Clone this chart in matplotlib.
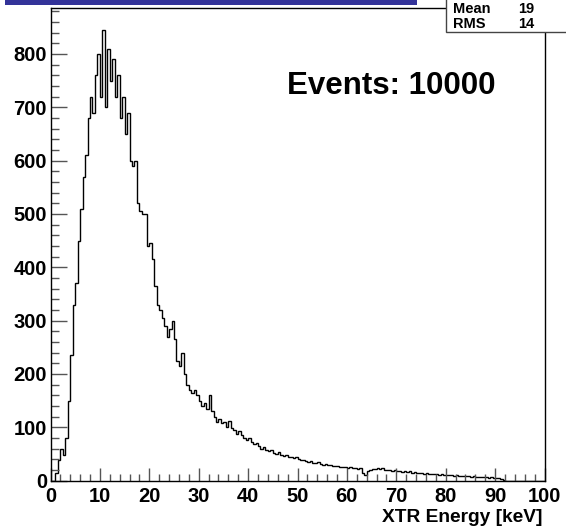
import numpy as np
import matplotlib
matplotlib.use("Agg")
import matplotlib.pyplot as plt
from matplotlib.patches import Rectangle

plt.rcParams['font.family'] = ['Liberation Sans', 'DejaVu Sans']
plt.rcParams['font.weight'] = 'bold'

# histogram: 200 bins of 0.5 keV from 0 to 100 keV (counts)
bin_width = 0.5
counts = [
    # 0 - 5 keV
    0, 0, 15, 38, 60, 48, 80, 150, 235, 330,
    # 5 - 10
    370, 450, 510, 570, 610, 680, 720, 690, 760, 800,
    # 10 - 15
    720, 845, 700, 810, 750, 790, 720, 760, 680, 720,
    # 15 - 20
    650, 690, 600, 590, 600, 520, 505, 500, 500, 440,
    # 20 - 25
    445, 415, 365, 330, 320, 305, 290, 270, 285, 300,
    # 25 - 30
    265, 225, 215, 240, 200, 180, 170, 165, 170, 160,
    # 30 - 35
    150, 140, 145, 135, 160, 130, 120, 110, 115, 108,
    # 35 - 40
    110, 100, 112, 98, 95, 88, 92, 85, 80, 76,
    # 40 - 45
    80, 72, 68, 70, 64, 60, 62, 58, 55, 57,
    # 45 - 50
    52, 50, 53, 48, 46, 48, 44, 45, 42, 44,
    # 50 - 55
    40, 38, 39, 36, 35, 37, 33, 32, 34, 31,
    # 55 - 60
    30, 31, 29, 30, 28, 27, 28, 26, 25, 26,
    # 60 - 65
    24, 25, 23, 24, 22, 23, 14, 10, 18, 20,
    # 65 - 70
    22, 21, 23, 22, 24, 20, 19, 20, 18, 19,
    # 70 - 75
    17, 18, 16, 17, 16, 17, 15, 16, 15, 14,
    # 75 - 80
    15, 13, 14, 13, 12, 13, 12, 11, 12, 11,
    # 80 - 85
    10, 11, 10, 9, 10, 9, 9, 8, 9, 8,
    # 85 - 90
    7, 8, 7, 7, 6, 7, 6, 5, 6, 5,
    # 90 - 95
    4, 5, 3, 1, 0, 0, 0, 0, 0, 0,
    # 95 - 100
    0, 0, 0, 0, 0, 0, 0, 0, 0, 0,
]
x_label = "XTR Energy [keV]"
annotation = "Events: 10000"
stats_names = ["Mean", "RMS"]
stats_values = ["19", "14"]

edges = np.arange(0, 100 + bin_width / 2, bin_width)

fig = plt.figure(figsize=(5.66, 5.29), dpi=100)
ax = fig.add_axes([50.5 / 566, 1 - 480.5 / 529, 494 / 566, 472.5 / 529])

ax.stairs(counts, edges, color='black', linewidth=1.0, baseline=None)

ax.set_xlim(0, 100)
ax.set_ylim(0, 886)
ax.set_xticks(np.arange(0, 101, 10))
ax.set_xticks(np.arange(0, 101, 2), minor=True)
ax.set_yticks(np.arange(0, 801, 100))
ax.set_yticks(np.arange(0, 881, 20), minor=True)

# ROOT style ticks, drawn inside
ax.tick_params(axis='both', which='both', direction='in', labelsize=14.5, width=1.0, color='#555555')
ax.tick_params(axis='x', which='major', length=9.5, pad=4.5)
ax.tick_params(axis='x', which='minor', length=5)
ax.tick_params(axis='y', which='major', length=11.5, pad=2.5)
ax.tick_params(axis='y', which='minor', length=5.5)
for lab in ax.get_xticklabels() + ax.get_yticklabels():
    lab.set_fontweight('bold')
for sp in ax.spines.values():
    sp.set_linewidth(1.0)

ax.text(0.479, 0.835, annotation, transform=ax.transAxes, fontsize=22.5,
        fontweight='bold', ha='left', va='center')

fig.text(543 / 566, 1 - 518 / 529, x_label, fontsize=13.8, fontweight='bold',
         ha='right', va='center')

# title bar (cut off) and stats box at the top
fig.patches.append(Rectangle((5 / 566, 1 - 4.5 / 529), 412 / 566, 4.5 / 529,
                             transform=fig.transFigure, facecolor='#333399',
                             edgecolor='none', zorder=5))
fig.patches.append(Rectangle((446 / 566, 1 - 32 / 529), 130 / 566, 34 / 529,
                             transform=fig.transFigure, facecolor='white',
                             edgecolor='#444444', linewidth=1.0, zorder=5))
for i, (name, val) in enumerate(zip(stats_names, stats_values)):
    yy = 1 - (9 + 15 * i) / 529
    fig.text(453 / 566, yy, name, fontsize=10.5, fontweight='bold', ha='left', va='center', zorder=6)
    fig.text(518 / 566, yy, val, fontsize=10.5, fontweight='bold', ha='left', va='center', zorder=6)

fig.savefig("out.png", dpi=100)
